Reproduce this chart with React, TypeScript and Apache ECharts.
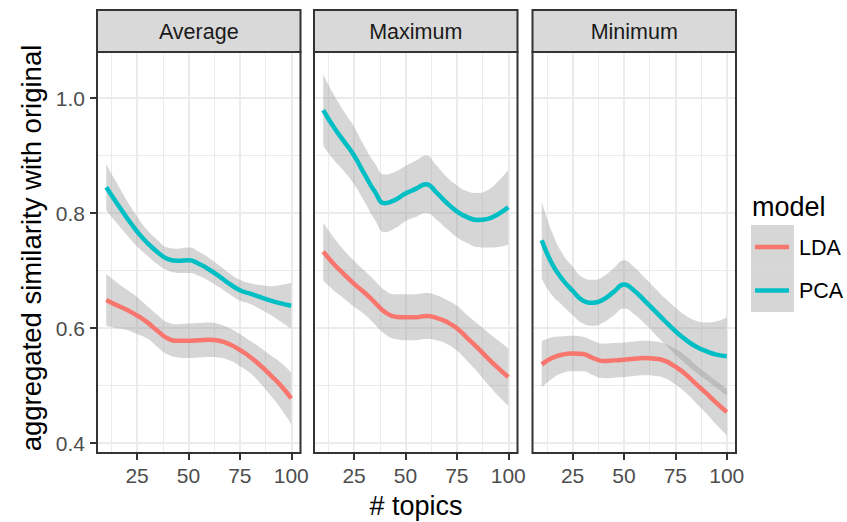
import React, { useEffect, useRef } from "react";
import * as echarts from "echarts";

// ---- data ----
const panels = ["Average", "Maximum", "Minimum"];
const models = ["LDA", "PCA"];
const modelColors = ["#F8766D", "#00BFC4"];
const topics = [10, 15, 20, 25, 30, 35, 40, 45, 50, 55, 60, 65, 70, 75, 80, 85, 90, 95, 100];

const avgLDA = [0.649, 0.640, 0.632, 0.622, 0.610, 0.595, 0.582, 0.578, 0.578, 0.579, 0.580, 0.578, 0.572, 0.562, 0.550, 0.535, 0.518, 0.500, 0.478];
const avgLDAse = [0.045, 0.040, 0.035, 0.032, 0.028, 0.028, 0.028, 0.029, 0.030, 0.030, 0.030, 0.029, 0.028, 0.028, 0.028, 0.031, 0.035, 0.040, 0.045];
const avgPCA = [0.845, 0.818, 0.792, 0.768, 0.748, 0.732, 0.720, 0.717, 0.718, 0.712, 0.702, 0.690, 0.677, 0.666, 0.660, 0.654, 0.648, 0.643, 0.639];
const avgPCAse = [0.040, 0.035, 0.030, 0.026, 0.022, 0.021, 0.020, 0.021, 0.022, 0.021, 0.020, 0.019, 0.018, 0.018, 0.018, 0.021, 0.025, 0.032, 0.040];

const maxLDA = [0.733, 0.712, 0.694, 0.677, 0.662, 0.645, 0.628, 0.620, 0.619, 0.619, 0.621, 0.618, 0.611, 0.600, 0.583, 0.566, 0.548, 0.531, 0.515];
const maxLDAse = [0.050, 0.046, 0.042, 0.040, 0.038, 0.038, 0.038, 0.039, 0.040, 0.040, 0.040, 0.039, 0.038, 0.039, 0.040, 0.042, 0.045, 0.048, 0.050];
const maxPCA = [0.979, 0.950, 0.925, 0.900, 0.868, 0.838, 0.817, 0.823, 0.834, 0.842, 0.850, 0.836, 0.818, 0.803, 0.793, 0.788, 0.790, 0.798, 0.810];
const maxPCAse = [0.062, 0.057, 0.052, 0.050, 0.048, 0.049, 0.050, 0.049, 0.048, 0.049, 0.050, 0.047, 0.045, 0.045, 0.045, 0.047, 0.050, 0.057, 0.065];

const minLDA = [0.537, 0.548, 0.554, 0.556, 0.555, 0.548, 0.543, 0.544, 0.545, 0.547, 0.548, 0.547, 0.543, 0.533, 0.520, 0.503, 0.487, 0.470, 0.454];
const minLDAse = [0.040, 0.036, 0.032, 0.031, 0.030, 0.030, 0.030, 0.030, 0.030, 0.030, 0.030, 0.030, 0.030, 0.031, 0.032, 0.033, 0.035, 0.038, 0.040];
const minPCA = [0.753, 0.712, 0.685, 0.665, 0.648, 0.644, 0.650, 0.663, 0.676, 0.665, 0.648, 0.630, 0.612, 0.595, 0.580, 0.568, 0.560, 0.554, 0.551];
const minPCAse = [0.067, 0.055, 0.045, 0.042, 0.040, 0.040, 0.040, 0.041, 0.042, 0.041, 0.040, 0.040, 0.040, 0.041, 0.042, 0.045, 0.050, 0.058, 0.068];

const panelMeans = [[avgLDA, avgPCA], [maxLDA, maxPCA], [minLDA, minPCA]];
const panelSe = [[avgLDAse, avgPCAse], [maxLDAse, maxPCAse], [minLDAse, minPCAse]];

const xTicks = [25, 50, 75, 100];
const xMinor = [12.5, 37.5, 62.5, 87.5];
const yTicks = [0.4, 0.6, 0.8, 1.0];
const yMinor = [0.5, 0.7, 0.9];

const xTitle = "# topics";
const yTitle = "aggregated similarity with original";
const legendTitle = "model";

// ---- layout ----
const FONT = "'Liberation Sans', Arial, Helvetica, sans-serif";
const panelLeft = [97, 314, 532.5];
const panelW = 203.5;
const panelTop = 52;
const panelH = 401;
const stripTop = 10;
const xMin = 5.5, xMax = 104.5;
const yMin = 0.383, yMax = 1.08;
const SMOOTH = 0.5;

export default function App() {
  const ref = useRef<HTMLDivElement>(null);
  useEffect(() => {
    if (!ref.current) return;
    const chart = echarts.init(ref.current, null, { renderer: "svg" });

    const grids = panels.map((_, i) => ({
      left: panelLeft[i], top: panelTop, width: panelW, height: panelH,
      show: false, containLabel: false,
    }));

    const xAxes = panels.map((_, i) => ({
      type: "value", gridIndex: i, min: xMin, max: xMax,
      axisLine: { show: false, onZero: false },
      axisTick: { show: true, customValues: xTicks, length: 7, lineStyle: { color: "#333333", width: 2 } },
      axisLabel: { show: true, customValues: xTicks, fontSize: 21, color: "#4D4D4D", margin: 12, fontFamily: FONT },
      splitLine: { show: false },
    }));

    const yAxes = panels.map((_, i) => ({
      type: "value", gridIndex: i, min: yMin, max: yMax,
      axisLine: { show: false, onZero: false },
      axisTick: { show: i === 0, customValues: yTicks, length: 7, lineStyle: { color: "#333333", width: 2 } },
      axisLabel: { show: i === 0, customValues: yTicks, fontSize: 21, color: "#4D4D4D", margin: 12, fontFamily: FONT,
        formatter: (v: number) => v.toFixed(1) },
      splitLine: { show: false },
    }));

    const gridLineData = [
      ...yMinor.map((v) => ({ yAxis: v, lineStyle: { width: 1 } })),
      ...xMinor.map((v) => ({ xAxis: v, lineStyle: { width: 1 } })),
      ...yTicks.map((v) => ({ yAxis: v, lineStyle: { width: 2 } })),
      ...xTicks.map((v) => ({ xAxis: v, lineStyle: { width: 2 } })),
    ];

    const series: any[] = [];
    panels.forEach((_, gi) => {
      series.push({
        type: "line", xAxisIndex: gi, yAxisIndex: gi, data: [], silent: true,
        markLine: {
          z: 1, silent: true, symbol: ["none", "none"], label: { show: false },
          lineStyle: { color: "#EBEBEB", type: "solid" },
          data: gridLineData,
        },
      });
      models.forEach((m, mi) => {
        const mean = panelMeans[gi][mi];
        const se = panelSe[gi][mi];
        const stack = `ribbon-${gi}-${mi}`;
        // value first so that the y dimension is the stacked one
        series.push({
          type: "line", xAxisIndex: gi, yAxisIndex: gi, stack, smooth: SMOOTH, symbol: "none", silent: true, z: 2,
          encode: { x: 1, y: 0 },
          lineStyle: { opacity: 0, width: 0 },
          data: topics.map((x, k) => [mean[k] - se[k], x]),
        });
        series.push({
          type: "line", xAxisIndex: gi, yAxisIndex: gi, stack, smooth: SMOOTH, symbol: "none", silent: true, z: 2,
          encode: { x: 1, y: 0 },
          lineStyle: { opacity: 0, width: 0 },
          areaStyle: { color: "#999999", opacity: 0.4 },
          data: topics.map((x, k) => [2 * se[k], x]),
        });
        series.push({
          type: "line", name: m, xAxisIndex: gi, yAxisIndex: gi, smooth: SMOOTH, symbol: "none", silent: true, z: 3,
          lineStyle: { color: modelColors[mi], width: 4.5 },
          data: topics.map((x, k) => [x, mean[k]]),
        });
      });
    });

    const graphic: any[] = [];
    panels.forEach((p, i) => {
      graphic.push({
        type: "rect", z: 10, shape: { x: panelLeft[i], y: stripTop, width: panelW, height: panelTop - stripTop },
        style: { fill: "#D9D9D9", stroke: "#333333", lineWidth: 2 },
      });
      graphic.push({
        type: "text", z: 11, x: panelLeft[i] + panelW / 2, y: (stripTop + panelTop) / 2 + 1,
        style: { text: p, fill: "#1A1A1A", font: `21.5px ${FONT}`, textAlign: "center", textVerticalAlign: "middle" },
      });
      graphic.push({
        type: "rect", z: 10, shape: { x: panelLeft[i], y: panelTop, width: panelW, height: panelH },
        style: { fill: "none", stroke: "#333333", lineWidth: 2 },
      });
    });
    graphic.push({
      type: "text", z: 11, x: 416, y: 506,
      style: { text: xTitle, fill: "#000000", font: `27px ${FONT}`, textAlign: "center", textVerticalAlign: "middle" },
    });
    graphic.push({
      type: "text", z: 11, x: 31, y: 248, rotation: Math.PI / 2,
      style: { text: yTitle, fill: "#000000", font: `27.5px ${FONT}`, textAlign: "center", textVerticalAlign: "middle" },
    });
    // legend
    graphic.push({
      type: "text", z: 11, x: 752, y: 207,
      style: { text: legendTitle, fill: "#000000", font: `27px ${FONT}`, textAlign: "left", textVerticalAlign: "middle" },
    });
    models.forEach((m, mi) => {
      const top = 225 + mi * 43.5;
      graphic.push({
        type: "rect", z: 10, shape: { x: 751, y: top, width: 43, height: 43.5 },
        style: { fill: "#999999", opacity: 0.4 },
      });
      graphic.push({
        type: "line", z: 11, shape: { x1: 755, y1: top + 22, x2: 789, y2: top + 22 },
        style: { stroke: modelColors[mi], lineWidth: 4.5 },
      });
      graphic.push({
        type: "text", z: 11, x: 799, y: top + 22.5,
        style: { text: m, fill: "#000000", font: `21.5px ${FONT}`, textAlign: "left", textVerticalAlign: "middle" },
      });
    });

    chart.setOption({
      animation: false,
      backgroundColor: "#FFFFFF",
      textStyle: { fontFamily: FONT },
      grid: grids,
      xAxis: xAxes,
      yAxis: yAxes,
      series,
      graphic,
    });
    return () => chart.dispose();
  }, []);
  return (
    <div
      ref={ref}
      style={{ position: "fixed", left: 0, top: 0, width: 847, height: 522, background: "#fff" }}
    />
  );
}
